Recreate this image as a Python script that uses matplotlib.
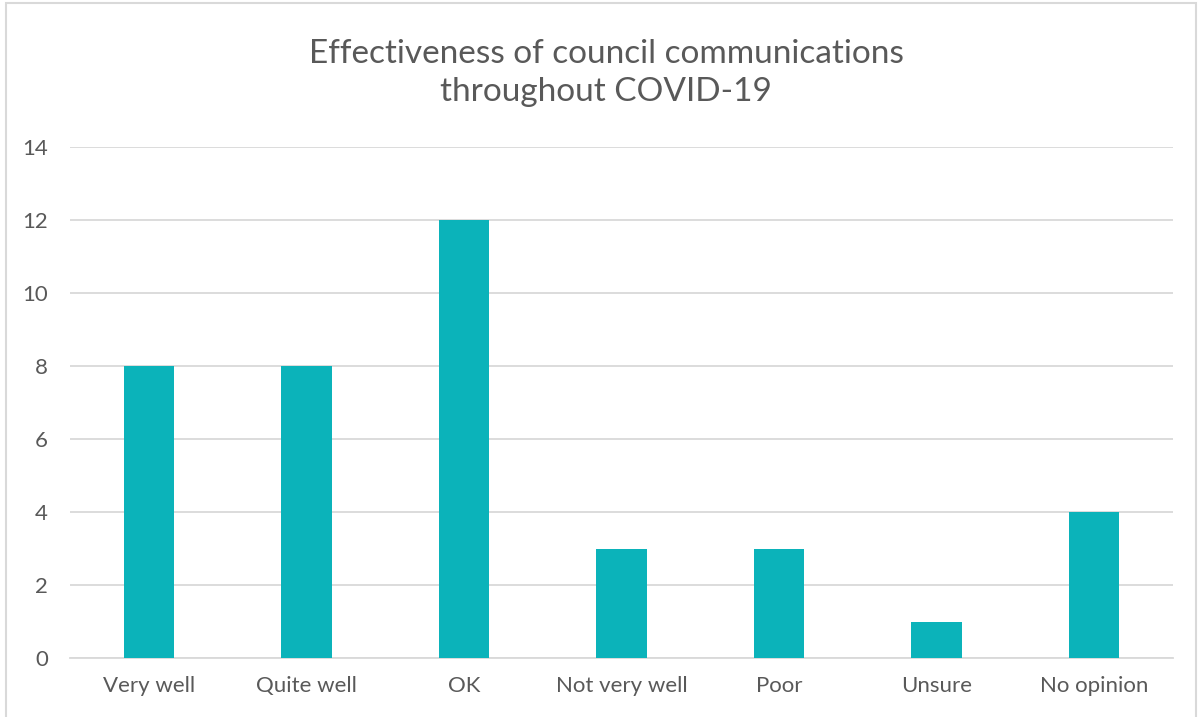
import matplotlib.pyplot as plt
from matplotlib.patches import Rectangle

# survey responses
categories = ['Very well', 'Quite well', 'OK', 'Not very well', 'Poor', 'Unsure', 'No opinion']
counts = [8, 8, 12, 3, 3, 1, 4]
yticks = [0, 2, 4, 6, 8, 10, 12, 14]

plt.rcParams['font.family'] = ['Lato', 'DejaVu Sans']
txt = '#595959'

fig = plt.figure(figsize=(11.99, 7.17), dpi=100)
ax = fig.add_axes([70/1199, 1-658/717, (1173-70)/1199, (658-147)/717])

ax.bar(range(len(categories)), counts, width=0.32, color='#0BB3BA', zorder=3)
ax.set_xlim(-0.5, len(categories)-0.5)
ax.set_ylim(0, 14)
ax.set_yticks(yticks)
ax.set_xticks(range(len(categories)))
ax.set_xticklabels(categories)
ax.grid(axis='y', color='#D9D9D9', linewidth=1.3, zorder=0)
for s in ['top', 'right', 'left']:
    ax.spines[s].set_visible(False)
ax.spines['bottom'].set_color('#D9D9D9')
ax.spines['bottom'].set_linewidth(1.3)
ax.tick_params(length=0, labelsize=16, colors=txt)
ax.tick_params(axis='x', pad=13)
ax.tick_params(axis='y', pad=16)

fig.text(606/1199, 1-73/717, 'Effectiveness of council communications\nthroughout COVID-19',
         ha='center', va='center', fontsize=24, color=txt, linespacing=1.35)

# chart area border
fig.patches.append(Rectangle((6/1199, -0.01), (1196-6)/1199, 1-3/717+0.01,
                             transform=fig.transFigure, fill=False,
                             edgecolor='#D9D9D9', linewidth=1.5))

fig.savefig('out.png', dpi=100, facecolor='white')
